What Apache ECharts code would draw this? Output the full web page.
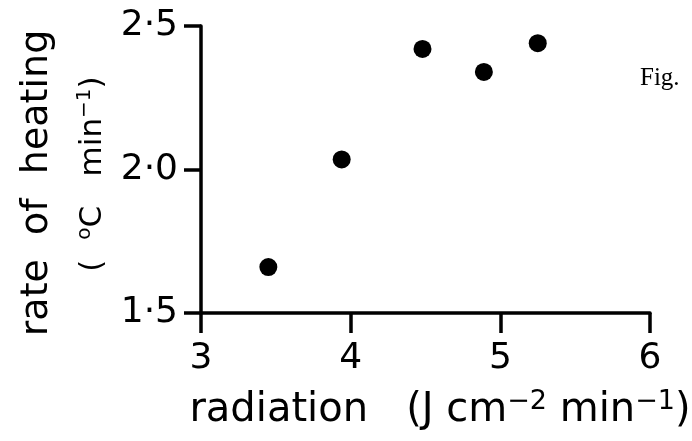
<!DOCTYPE html>
<html>
<head>
<meta charset="utf-8">
<script src="https://cdn.jsdelivr.net/npm/echarts@6/dist/echarts.min.js"></script>
<style>
html,body{margin:0;padding:0;background:#fff;}
#chart{width:692px;height:441px;}
</style>
</head>
<body>
<div id="chart"></div>
<script>
// Data
var radiation = [3.45, 3.94, 4.48, 4.89, 5.25];
var heatingRate = [1.66, 2.035, 2.42, 2.34, 2.44];
var xTickValues = [3, 4, 5, 6];
var yTickLabels = {'1.5': '1·5', '2': '2·0', '2.5': '2·5'};

var FONT = '"DejaVu Sans", sans-serif';
var points = radiation.map(function (x, i) { return [x, heatingRate[i]]; });

var chart = echarts.init(document.getElementById('chart'), null, {renderer: 'canvas'});
chart.setOption({
  backgroundColor: '#ffffff',
  animation: false,
  grid: {left: 201, right: 42, top: 26, bottom: 128, containLabel: false, outerBoundsMode: 'none'},
  xAxis: {
    type: 'value', min: 3, max: 6, interval: 1,
    splitLine: {show: false},
    axisLine: {show: true, lineStyle: {color: '#000', width: 3.5}},
    axisTick: {show: true, length: 20, lineStyle: {color: '#000', width: 3.5}},
    axisLabel: {margin: 28, color: '#000', fontSize: 36, fontFamily: FONT,
      formatter: function (v) { return xTickValues.indexOf(v) >= 0 ? String(v) : ''; }},
    name: '{n|radiation   (J cm}{s|−2}{n| min}{s|−1}{n|)}',
    nameLocation: 'middle',
    nameGap: 75,
    nameTextStyle: {
      padding: [0, 0, 0, 29],
      rich: {
        n: {fontSize: 40, fontFamily: FONT, color: '#000', lineHeight: 46},
        s: {fontSize: 27, fontFamily: FONT, color: '#000', lineHeight: 27, padding: [0, 0, 19, 0]}
      }
    }
  },
  yAxis: {
    type: 'value', min: 1.5, max: 2.5, interval: 0.5,
    splitLine: {show: false},
    axisLine: {show: true, lineStyle: {color: '#000', width: 3.5}},
    axisTick: {show: true, length: 17, lineStyle: {color: '#000', width: 3.5}},
    axisLabel: {margin: 23, color: '#000', fontSize: 36, fontFamily: FONT,
      formatter: function (v) { var k = String(v); return yTickLabels[k] || ''; }}
  },
  series: [{
    type: 'scatter',
    data: points,
    symbol: 'circle',
    symbolSize: 18,
    itemStyle: {color: '#000', opacity: 1}
  }],
  graphic: [
    {
      type: 'text', x: 37, y: 183, rotation: Math.PI / 2,
      style: {text: 'rate  of  heating', font: '38px ' + FONT, fill: '#000',
        textAlign: 'center', textVerticalAlign: 'middle'}
    },
    {
      type: 'text', x: 93, y: 174, rotation: Math.PI / 2,
      style: {
        text: '{n|(  }{s|o}{n|C   min}{s|−1}{n|)}',
        textAlign: 'center', textVerticalAlign: 'middle',
        rich: {
          n: {fontSize: 31, fontFamily: FONT, fill: '#000', lineHeight: 36},
          s: {fontSize: 20, fontFamily: FONT, fill: '#000', lineHeight: 20, padding: [0, 0, 16, 0]}
        }
      }
    },
    {
      type: 'text', x: 640, y: 91,
      style: {text: 'Fig.', font: '25px "Liberation Serif", serif', fill: '#000',
        textAlign: 'left', textVerticalAlign: 'bottom'}
    }
  ]
});
</script>
</body>
</html>
